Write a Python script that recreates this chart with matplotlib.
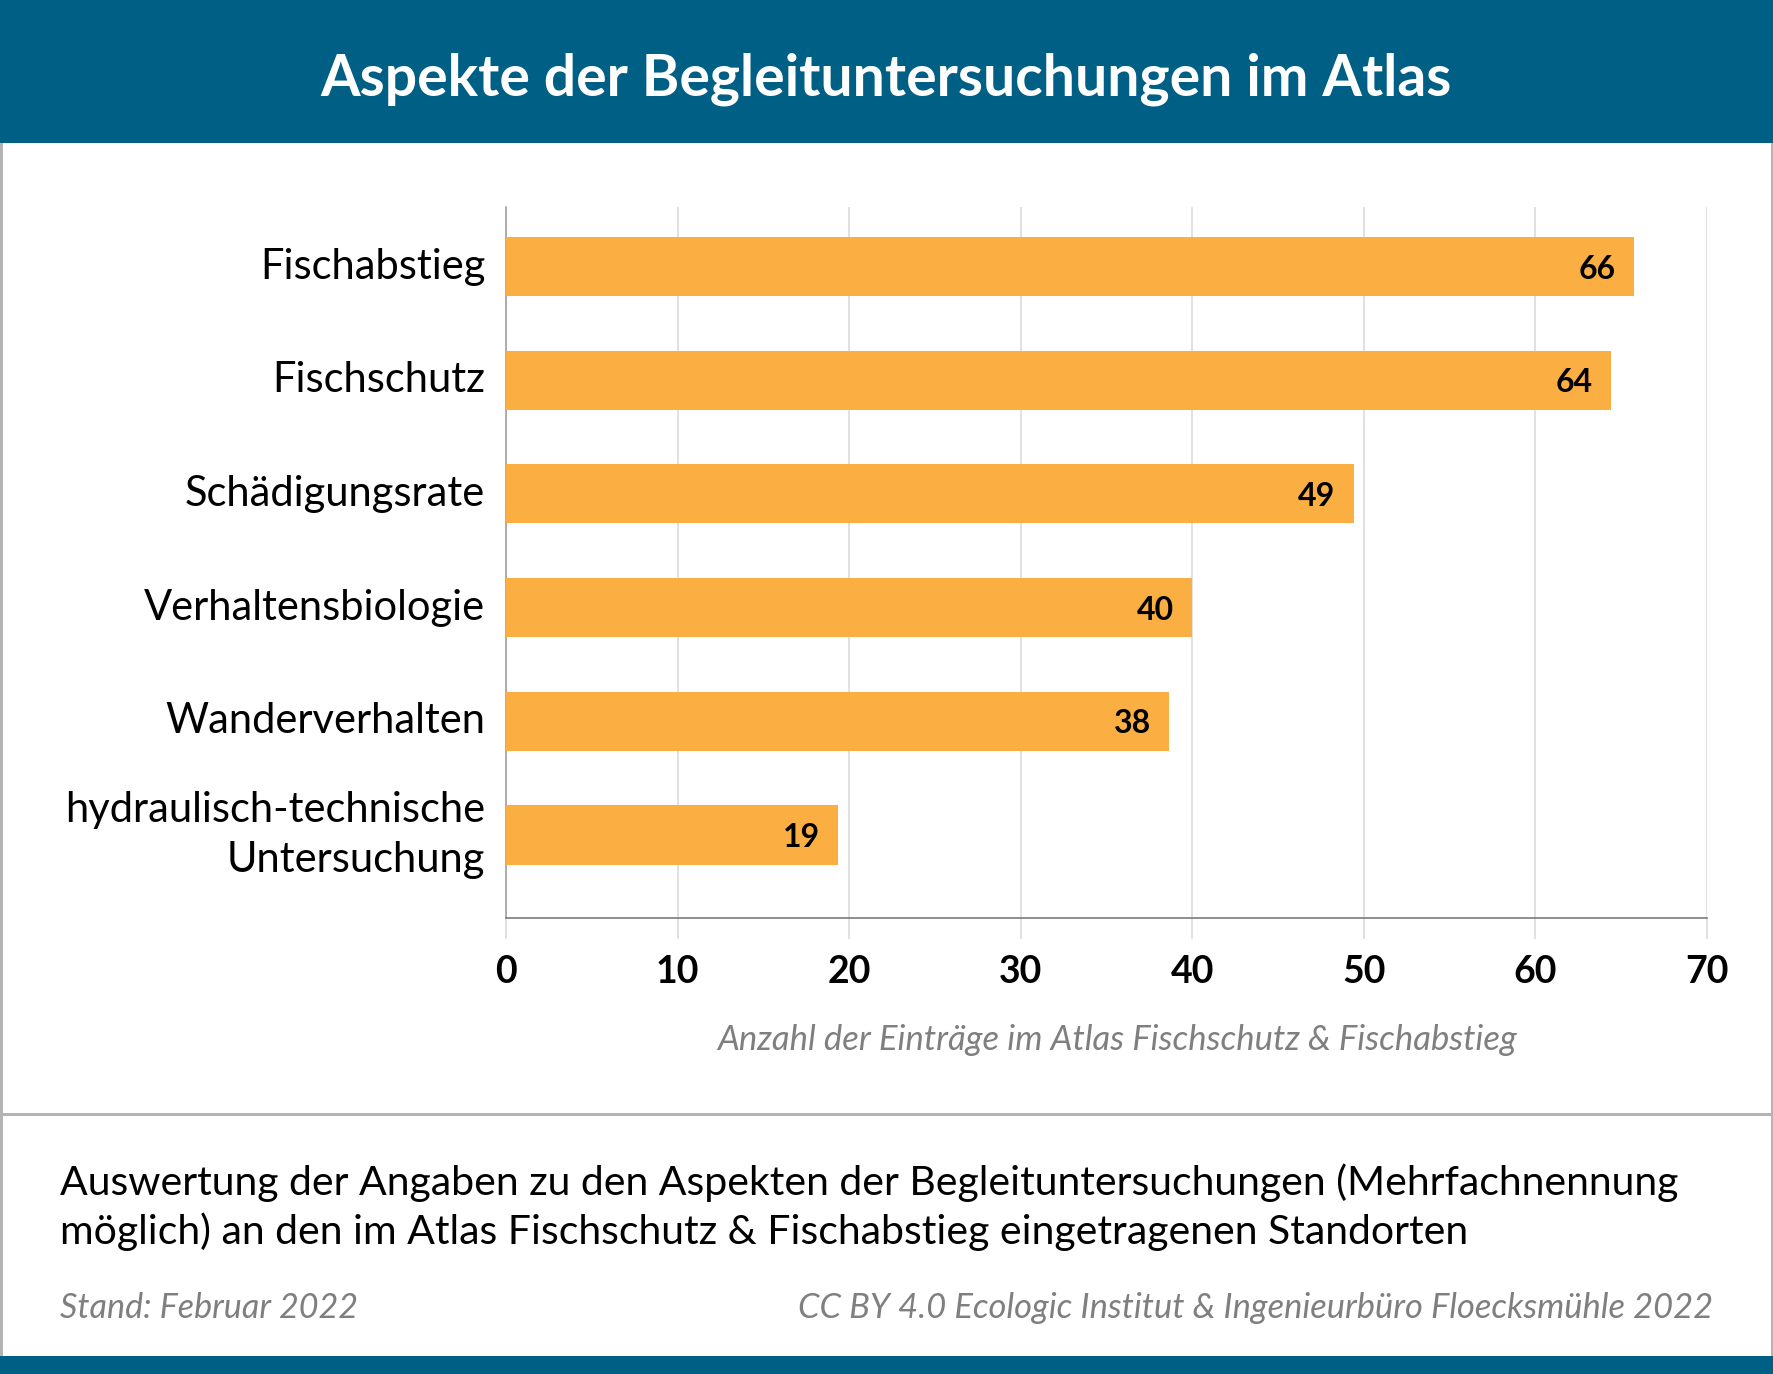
import matplotlib
matplotlib.use("Agg")
import matplotlib.pyplot as plt
from matplotlib.patches import Rectangle

# Data
categories = ["Fischabstieg", "Fischschutz", "Schädigungsrate", "Verhaltensbiologie",
              "Wanderverhalten", "hydraulisch-technische\nUntersuchung"]
bar_lengths = [65.75, 64.4, 49.4, 40.0, 38.65, 19.35]
bar_labels = ["66", "64", "49", "40", "38", "19"]
x_ticks = [0, 10, 20, 30, 40, 50, 60, 70]

W, H = 1773, 1374
BLUE = "#005F85"
ORANGE = "#FBAF43"
GREY_TEXT = "#7F7F7F"

plt.rcParams["font.family"] = ["Lato", "DejaVu Sans"]

fig = plt.figure(figsize=(W / 100, H / 100), dpi=100, facecolor="white")


def px_text(x, y, s, **kw):
    # position in pixels from the top left corner
    fig.text(x / W, 1 - y / H, s, **kw)


def px_rect(x, y, w, h, color):
    fig.add_artist(Rectangle((x / W, 1 - (y + h) / H), w / W, h / H, transform=fig.transFigure,
                             facecolor=color, edgecolor="none"))


# Frame, header and footer
px_rect(0, 0, 2.5, H, "#B4B4B4")
px_rect(W - 2.5, 0, 2.5, H, "#B4B4B4")
px_rect(0, 1113, W, 3, "#B4B4B4")
px_rect(0, 0, W, 143, BLUE)
px_rect(0, 1356, W, 18, BLUE)

# Plot area
left, right, top, bottom = 506, 1707, 207, 917.5
ax = fig.add_axes([left / W, 1 - bottom / H, (right - left) / W, (bottom - top) / H])
ypos = list(range(len(categories)))
ax.barh(ypos, bar_lengths, height=0.52, color=ORANGE, zorder=3)
ax.set_xlim(0, 70)
ax.set_ylim(5.726, -0.524)
ax.set_yticks(ypos)
ax.set_yticklabels(categories, fontsize=30, color="black", linespacing=1.36, ha="right", va="center")
ax.set_xticks(x_ticks)
ax.set_xticklabels([str(t) for t in x_ticks], fontsize=27, fontweight="bold", color="black")
ax.tick_params(axis="y", length=0, pad=15)
ax.tick_params(axis="x", length=15, width=1.1, color="#D9D9D9", pad=12)
ax.get_xticklines()[0].set_color("#9A9A9A")
ax.grid(axis="x", color="#D9D9D9", linewidth=1.1, zorder=0)
ax.set_axisbelow(True)
for side in ["top", "right"]:
    ax.spines[side].set_visible(False)
ax.spines["left"].set_color("#9A9A9A")
ax.spines["left"].set_linewidth(1.1)
ax.spines["bottom"].set_color("#707070")
ax.spines["bottom"].set_linewidth(1.1)

for y, length, label in zip(ypos, bar_lengths, bar_labels):
    ax.annotate(label, (length, y), xytext=(-13, 0), textcoords="offset points",
                ha="right", va="center_baseline", fontsize=23, fontweight="bold", color="black", zorder=4)

# Texts around the plot
px_text(886, 79, "Aspekte der Begleituntersuchungen im Atlas", ha="center", va="center",
        fontsize=41, fontweight="bold", color="white")
px_text(1117, 1040, "Anzahl der Einträge im Atlas Fischschutz & Fischabstieg", ha="center", va="center",
        fontsize=24.9, fontstyle="italic", color=GREY_TEXT)
px_text(60, 1183, "Auswertung der Angaben zu den Aspekten der Begleituntersuchungen (Mehrfachnennung",
        ha="left", va="center", fontsize=29.5, color="black")
px_text(60, 1232, "möglich) an den im Atlas Fischschutz & Fischabstieg eingetragenen Standorten",
        ha="left", va="center", fontsize=29.5, color="black")
px_text(60, 1308, "Stand: Februar 2022", ha="left", va="center",
        fontsize=24.6, fontstyle="italic", color=GREY_TEXT)
px_text(1713, 1308, "CC BY 4.0 Ecologic Institut & Ingenieurbüro Floecksmühle 2022", ha="right", va="center",
        fontsize=24.8, fontstyle="italic", color=GREY_TEXT)

fig.savefig("out.png", dpi=100, facecolor="white")
